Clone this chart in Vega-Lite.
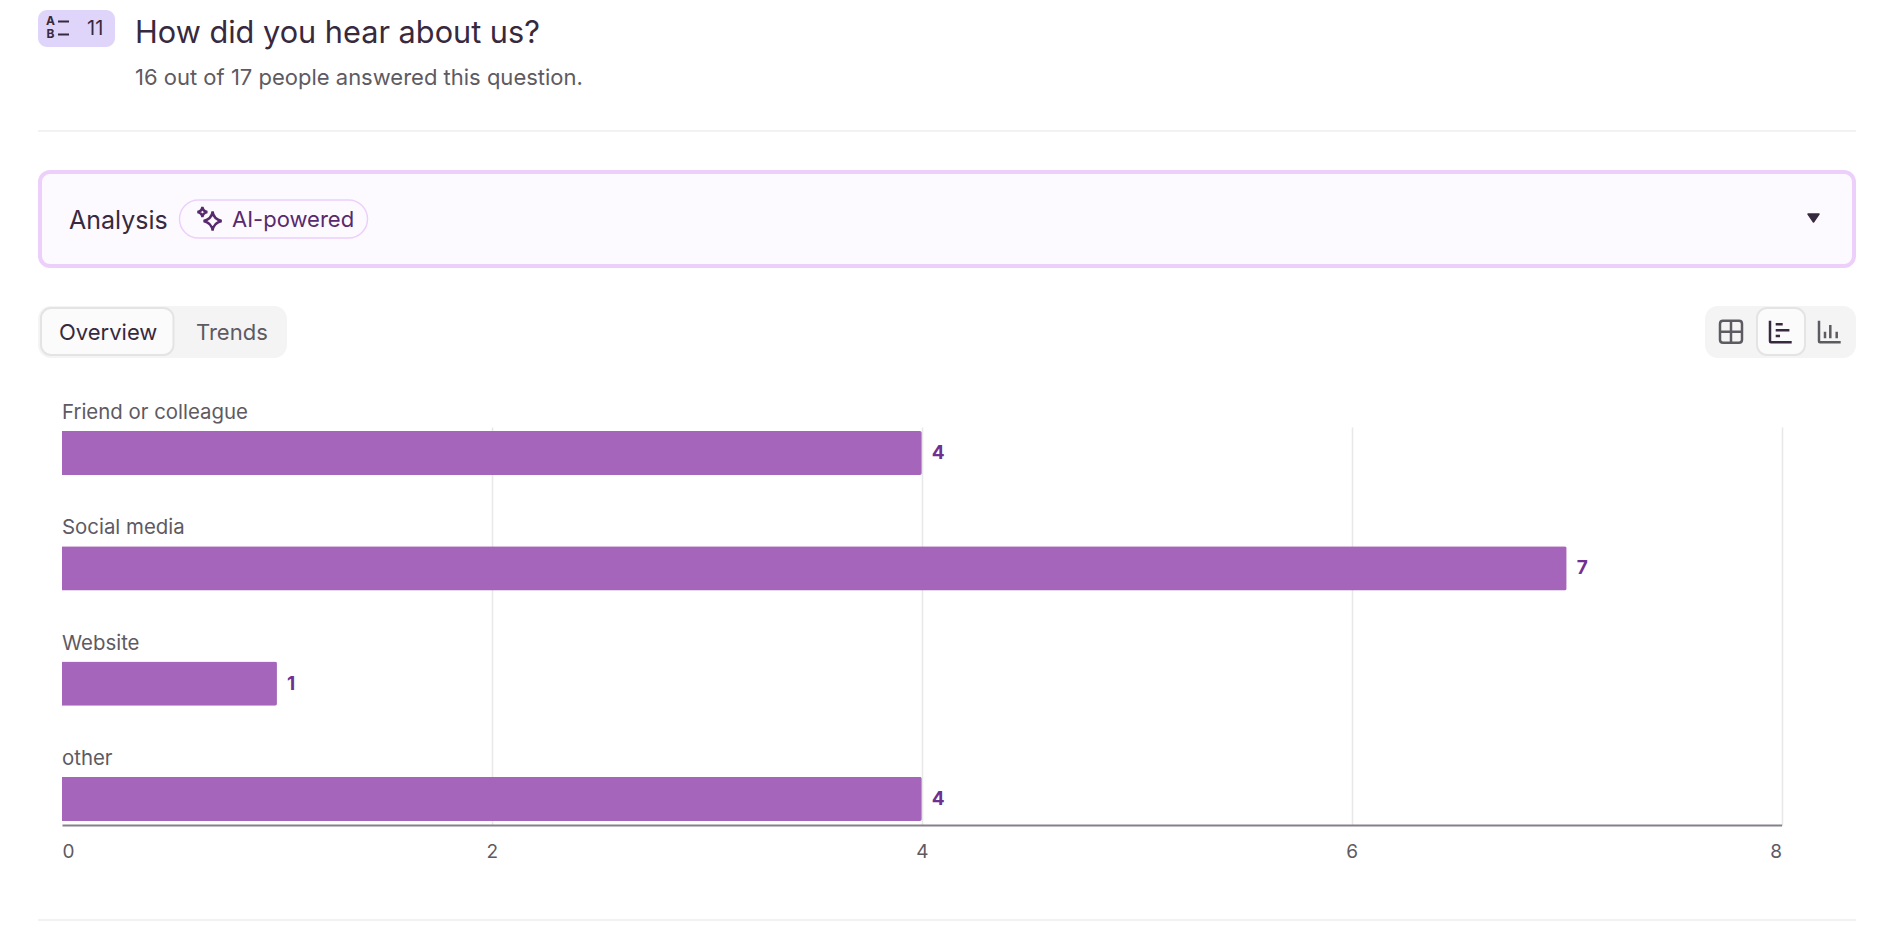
{
  "$schema": "https://vega.github.io/schema/vega-lite/v6.json",
  "background": "#ffffff",
  "padding": {"left": 32, "top": 0, "right": 0, "bottom": 0},
  "bounds": "flush",
  "spacing": 38,
  "config": {"font": "Inter", "view": {"stroke": null}},
  "vconcat": [
    {
      "width": 1818,
      "height": 132,
      "encoding": {
        "x": {"field": "side", "type": "nominal", "axis": null, "scale": {"domain": ["left", "right"], "padding": 0}}
      },
      "layer": [
        {
          "data": {"values": [{"side": "left", "part": "badge"}]},
          "mark": {"type": "point", "filled": true, "opacity": 1, "size": 4, "fill": "#dfd5fb", "shape": "M9,-56H68A9,9 0 0 1 77,-47V-28A9,9 0 0 1 68,-19H9A9,9 0 0 1 0,-28V-47A9,9 0 0 1 9,-56Z"}
        },
        {
          "data": {"values": [{"side": "left", "part": "badge icon lines"}]},
          "mark": {"type": "point", "filled": false, "opacity": 1, "size": 4, "stroke": "#37293e", "strokeWidth": 2, "shape": "M20,-44.5H31M20,-31.5H31"}
        },
        {
          "data": {"values": [{"side": "left", "label": "A"}]},
          "mark": {"type": "text", "align": "center", "baseline": "middle", "dx": 12.5, "dy": -45, "fontSize": 12, "fontWeight": 700, "color": "#37293e"},
          "encoding": {"text": {"field": "label"}}
        },
        {
          "data": {"values": [{"side": "left", "label": "B"}]},
          "mark": {"type": "text", "align": "center", "baseline": "middle", "dx": 12.5, "dy": -32, "fontSize": 12, "fontWeight": 700, "color": "#37293e"},
          "encoding": {"text": {"field": "label"}}
        },
        {
          "data": {"values": [{"side": "left", "label": "11"}]},
          "mark": {"type": "text", "align": "left", "baseline": "middle", "dx": 49, "dy": -37, "fontSize": 20, "color": "#37293e"},
          "encoding": {"text": {"field": "label"}}
        },
        {
          "data": {"values": [{"side": "left", "label": "How did you hear about us?"}]},
          "mark": {"type": "text", "align": "left", "baseline": "middle", "dx": 97, "dy": -32, "fontSize": 30.7, "color": "#37293e"},
          "encoding": {"text": {"field": "label"}}
        },
        {
          "data": {"values": [{"side": "left", "label": "16 out of 17 people answered this question."}]},
          "mark": {"type": "text", "align": "left", "baseline": "middle", "dx": 97, "dy": 12, "fontSize": 22, "color": "#5e5a62"},
          "encoding": {"text": {"field": "label"}}
        },
        {
          "data": {"values": [{"side": "left", "part": "separator"}]},
          "mark": {"type": "point", "filled": false, "opacity": 1, "size": 4, "stroke": "#eeeeee", "strokeWidth": 1.5, "shape": "M0,65H1818"}
        }
      ]
    },
    {
      "width": 1818,
      "height": 98,
      "encoding": {
        "x": {"field": "side", "type": "nominal", "axis": null, "scale": {"domain": ["left", "right"], "padding": 0}}
      },
      "layer": [
        {
          "data": {"values": [{"side": "left", "part": "panel"}]},
          "mark": {"type": "point", "filled": true, "opacity": 1, "size": 4, "fill": "#fdfaff", "stroke": "#ecd0fb", "strokeWidth": 4, "shape": "M12,-47H1806A10,10 0 0 1 1816,-37V37A10,10 0 0 1 1806,47H12A10,10 0 0 1 2,37V-37A10,10 0 0 1 12,-47Z"}
        },
        {
          "data": {"values": [{"side": "left", "label": "Analysis"}]},
          "mark": {"type": "text", "align": "left", "baseline": "middle", "dx": 31, "dy": 2, "fontSize": 25, "color": "#37293e"},
          "encoding": {"text": {"field": "label"}}
        },
        {
          "data": {"values": [{"side": "left", "part": "chip"}]},
          "mark": {"type": "point", "filled": false, "opacity": 1, "size": 4, "stroke": "#ecd0fb", "strokeWidth": 1.5, "shape": "M160.5,-19H310.5A19,19 0 0 1 329.5,0A19,19 0 0 1 310.5,19H160.5A19,19 0 0 1 141.5,0A19,19 0 0 1 160.5,-19Z"}
        },
        {
          "data": {"values": [{"side": "left", "part": "sparkle"}]},
          "mark": {"type": "point", "filled": false, "opacity": 1, "size": 4, "stroke": "#562a6d", "strokeWidth": 2.4, "shape": "M174.6,-7.5Q175.5,0 183.6,2Q175.5,4 174.6,11.5Q173.7,4 165.6,2Q173.7,0 174.6,-7.5ZM164.4,-12Q165,-7.6 169.4,-7Q165,-6.4 164.4,-2Q163.8,-6.4 159.4,-7Q163.8,-7.6 164.4,-12Z"}
        },
        {
          "data": {"values": [{"side": "left", "label": "AI-powered"}]},
          "mark": {"type": "text", "align": "left", "baseline": "middle", "dx": 194, "dy": 1, "fontSize": 22, "color": "#562a6d"},
          "encoding": {"text": {"field": "label"}}
        },
        {
          "data": {"values": [{"side": "right", "part": "caret"}]},
          "mark": {"type": "point", "filled": true, "opacity": 1, "size": 4, "fill": "#37293e", "stroke": "#37293e", "strokeWidth": 1.5, "strokeJoin": "round", "shape": "M-48,-5H-37L-42.5,3Z"}
        }
      ]
    },
    {
      "width": 1818,
      "height": 83,
      "encoding": {
        "x": {"field": "side", "type": "nominal", "axis": null, "scale": {"domain": ["left", "right"], "padding": 0}}
      },
      "layer": [
        {
          "data": {"values": [{"side": "left", "part": "tabs"}]},
          "mark": {"type": "point", "filled": true, "opacity": 1, "size": 4, "fill": "#f4f4f4", "shape": "M13,-41.5H236A13,13 0 0 1 249,-28.5V-2.5A13,13 0 0 1 236,10.5H13A13,13 0 0 1 0,-2.5V-28.5A13,13 0 0 1 13,-41.5Z"}
        },
        {
          "data": {"values": [{"side": "left", "part": "active tab"}]},
          "mark": {"type": "point", "filled": true, "opacity": 1, "size": 4, "fill": "#fbfbfb", "stroke": "#e4e4e4", "strokeWidth": 2, "shape": "M13,-39.5H125.5A10,10 0 0 1 135.5,-29.5V-2.5A10,10 0 0 1 125.5,7.5H13A10,10 0 0 1 3,-2.5V-29.5A10,10 0 0 1 13,-39.5Z"}
        },
        {
          "data": {"values": [{"side": "left", "label": "Overview"}]},
          "mark": {"type": "text", "align": "left", "baseline": "middle", "dx": 21, "dy": -14.5, "fontSize": 22, "color": "#37293e"},
          "encoding": {"text": {"field": "label"}}
        },
        {
          "data": {"values": [{"side": "left", "label": "Trends"}]},
          "mark": {"type": "text", "align": "left", "baseline": "middle", "dx": 158, "dy": -14.5, "fontSize": 22, "color": "#5e5a62"},
          "encoding": {"text": {"field": "label"}}
        },
        {
          "data": {"values": [{"side": "right", "part": "view switch"}]},
          "mark": {"type": "point", "filled": true, "opacity": 1, "size": 4, "fill": "#f4f4f4", "shape": "M-138,-41.5H-13A13,13 0 0 1 0,-28.5V-2.5A13,13 0 0 1 -13,10.5H-138A13,13 0 0 1 -151,-2.5V-28.5A13,13 0 0 1 -138,-41.5Z"}
        },
        {
          "data": {"values": [{"side": "right", "part": "active view"}]},
          "mark": {"type": "point", "filled": true, "opacity": 1, "size": 4, "fill": "#fbfbfb", "stroke": "#e4e4e4", "strokeWidth": 2, "shape": "M-89,-39.5H-61A10,10 0 0 1 -51,-29.5V-2.5A10,10 0 0 1 -61,7.5H-89A10,10 0 0 1 -99,-2.5V-29.5A10,10 0 0 1 -89,-39.5Z"}
        },
        {
          "data": {"values": [{"side": "right", "icon": "table"}]},
          "mark": {"type": "point", "filled": false, "opacity": 1, "size": 4, "stroke": "#5e5a62", "strokeWidth": 2.5, "shape": "M-133,-26.8H-117Q-114,-26.8 -114,-23.8V-7.8Q-114,-4.8 -117,-4.8H-133Q-136,-4.8 -136,-7.8V-23.8Q-136,-26.8 -133,-26.8ZM-125,-26.8V-4.8M-136,-15.8H-114"}
        },
        {
          "data": {"values": [{"side": "right", "icon": "horizontal bars"}]},
          "mark": {"type": "point", "filled": false, "opacity": 1, "size": 4, "stroke": "#37293e", "strokeWidth": 2.5, "shape": "M-86,-26.8V-6.2Q-86,-5.2 -85,-5.2H-64.3M-80.3,-23.2H-73.3M-80.3,-17.2H-66.6M-80.3,-11.5H-76"}
        },
        {
          "data": {"values": [{"side": "right", "icon": "vertical bars"}]},
          "mark": {"type": "point", "filled": false, "opacity": 1, "size": 4, "stroke": "#5e5a62", "strokeWidth": 2.5, "shape": "M-37,-26.8V-6.2Q-37,-5.2 -36,-5.2H-15.3M-31,-15.8V-9.2M-25.7,-22.5V-9.2M-19.3,-15.8V-9.2"}
        }
      ]
    },
    {
      "width": 1818,
      "height": 398,
      "data": {
        "values": [
          {"source": "Friend or colleague", "count": 4},
          {"source": "Social media", "count": 7},
          {"source": "Website", "count": 1},
          {"source": "other", "count": 4}
        ]
      },
      "encoding": {
        "y": {
          "field": "source",
          "type": "nominal",
          "sort": null,
          "axis": null,
          "scale": {"paddingInner": 0.6174, "paddingOuter": 0.0348}
        }
      },
      "layer": [
        {
          "mark": {"type": "bar", "color": "#a565ba", "cornerRadiusEnd": 2},
          "encoding": {
            "x": {
              "field": "count",
              "type": "quantitative",
              "scale": {"domain": [0, 8], "nice": false, "range": [24, 1743.6]},
              "axis": {
                "title": null,
                "values": [0, 2, 4, 6, 8],
                "format": "d",
                "grid": true,
                "gridColor": "#e8e8e8",
                "gridWidth": 1.5,
                "gridOpacity": {"condition": {"test": "datum.value === 0", "value": 0}, "value": 1},
                "domainColor": "#86808a",
                "domainWidth": 2,
                "ticks": false,
                "labelFlush": true,
                "labelPadding": 17,
                "labelFontSize": 19,
                "labelColor": "#5e5a62"
              }
            }
          }
        },
        {
          "mark": {"type": "text", "align": "left", "baseline": "middle", "dx": 10, "dy": 0, "fontSize": 19, "fontWeight": 700, "color": "#6f3191"},
          "encoding": {
            "x": {"field": "count", "type": "quantitative"},
            "text": {"field": "count", "type": "quantitative"}
          }
        },
        {
          "mark": {"type": "text", "align": "left", "baseline": "middle", "dy": -40, "fontSize": 20.4, "color": "#5e5a62"},
          "encoding": {
            "x": {"datum": 0, "type": "quantitative"},
            "text": {"field": "source"}
          }
        }
      ]
    },
    {
      "width": 1818,
      "height": 57,
      "encoding": {
        "x": {"field": "side", "type": "nominal", "axis": null, "scale": {"domain": ["left", "right"], "padding": 0}}
      },
      "layer": [
        {
          "data": {"values": [{"side": "left", "part": "separator"}]},
          "mark": {"type": "point", "filled": false, "opacity": 1, "size": 4, "stroke": "#eeeeee", "strokeWidth": 1.5, "shape": "M0,28.5H1818"}
        }
      ]
    }
  ]
}
